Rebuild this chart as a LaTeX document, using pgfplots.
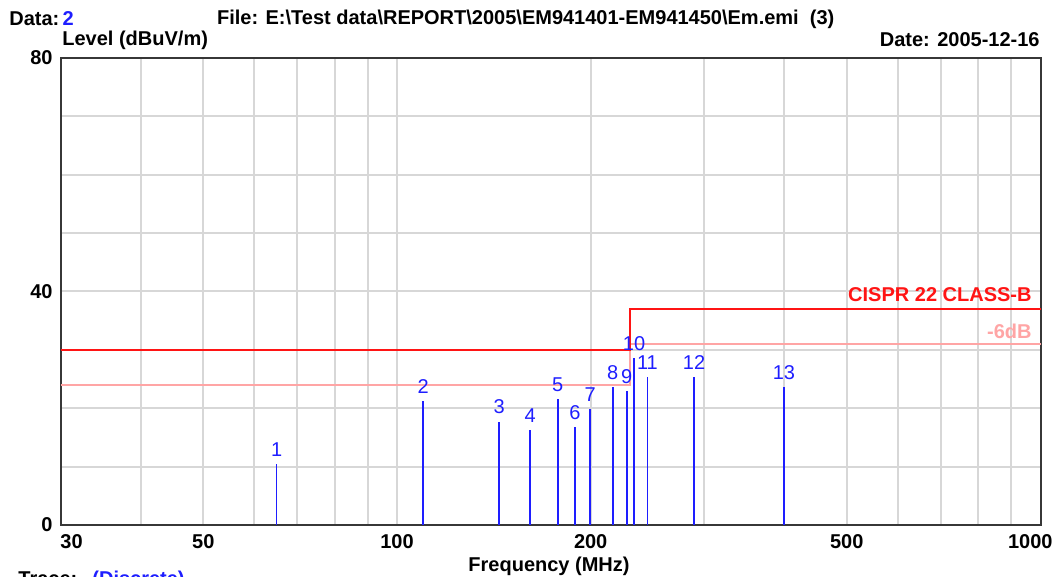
\documentclass[border=0pt]{standalone}
\usepackage{fontspec}
\setmainfont{Liberation Sans}
\usepackage{pgfplots}
\pgfplotsset{compat=1.18}

\definecolor{limred}{RGB}{255,20,20}
\definecolor{limpink}{RGB}{255,165,165}
\definecolor{pkblue}{RGB}{30,30,255}
\definecolor{gridgray}{RGB}{215,215,215}
\definecolor{axgray}{RGB}{55,55,55}
\newcommand{\lbl}{\fontsize{10}{12}\selectfont\bfseries}

\begin{document}
\begin{tikzpicture}[every node/.style={inner sep=0pt}]
\begin{axis}[
    at={(30.25pt,26pt)}, anchor=south west,
    width=490pt, height=233.5pt, scale only axis,
    xmode=log, xmin=30, xmax=1000, ymin=0, ymax=80,
    xtick={30,50,100,200,500,1000},
    xticklabels={,50,100,200,500,},
    minor xtick={40,60,70,80,90,300,400,600,700,800,900},
    ytick={0,40,80},
    yticklabels={0,40,80},
    minor ytick={10,20,30,50,60,70},
    grid=both,
    grid style={line width=1pt, draw=gridgray},
    major grid style={line width=1pt, draw=gridgray},
    minor grid style={line width=1pt, draw=gridgray},
    tick style={draw=none},
    axis line style={line width=1pt, draw=axgray},
    ticklabel style={font=\lbl, inner sep=0pt},
    xticklabel style={anchor=north, yshift=-4.5pt},
    yticklabel style={anchor=east, xshift=-3.75pt},
    clip=false,
]
% limit lines
\addplot[draw=limpink, line width=1pt] coordinates {(30,24) (230,24) (230,31) (1000,31)};
\addplot[draw=limred, line width=1pt] coordinates {(30,30) (230,30) (230,37) (1000,37)};
% discrete peaks
\addplot[ycomb, draw=pkblue, line width=0.9pt, mark=none,
    nodes near coords, point meta=explicit symbolic,
    every node near coord/.append style={font=\fontsize{10}{12}\selectfont, text=pkblue, anchor=south, inner sep=0pt, yshift=3.3pt}]
coordinates {
(65.0,10.4) [1]
(109.8,21.2) [2]
(144.1,17.7) [3]
(161.0,16.3) [4]
(177.8,21.5) [5]
(189.1,16.8) [6]
(199.7,19.8) [7]
(216.4,23.6) [8]
(227.5,23.0) [9]
(233.6,28.6) [10]
(245.0,25.3) [11]
(289.5,25.3) [12]
(399.3,23.6) [13]
};
\end{axis}

\node[anchor=west, font=\lbl] at (4.5pt,279pt) {Data:\,\textcolor{pkblue}{2}};
\node[anchor=west, font=\lbl] at (108.35pt,279pt) {File: E:\textbackslash Test data\textbackslash REPORT\textbackslash 2005\textbackslash EM941401-EM941450\textbackslash Em.emi\ \ (3)};
\node[anchor=west, font=\lbl] at (31pt,268.5pt) {Level (dBuV/m)};
\node[anchor=east, font=\lbl] at (520pt,268.5pt) {Date: 2005-12-16};
\node[anchor=west, font=\lbl] at (30pt,17.75pt) {30};
\node[anchor=east, font=\lbl] at (526.5pt,17.75pt) {1000};
\node[font=\lbl] at (274.5pt,5.25pt) {Frequency (MHz)};
\node[anchor=east, font=\lbl, text=limred] at (516pt,141pt) {CISPR 22 CLASS-B};
\node[anchor=east, font=\lbl, text=limpink] at (516pt,122.65pt) {-6dB};
\node[anchor=base west, font=\lbl] at (9pt,-4.5pt) {Trace:};
\node[anchor=base west, font=\lbl, text=pkblue] at (46pt,-4.5pt) {(Discrete)};

\pgfresetboundingbox
\path[use as bounding box] (0pt,0pt) rectangle (527.5pt,288.5pt);
\end{tikzpicture}
\end{document}
